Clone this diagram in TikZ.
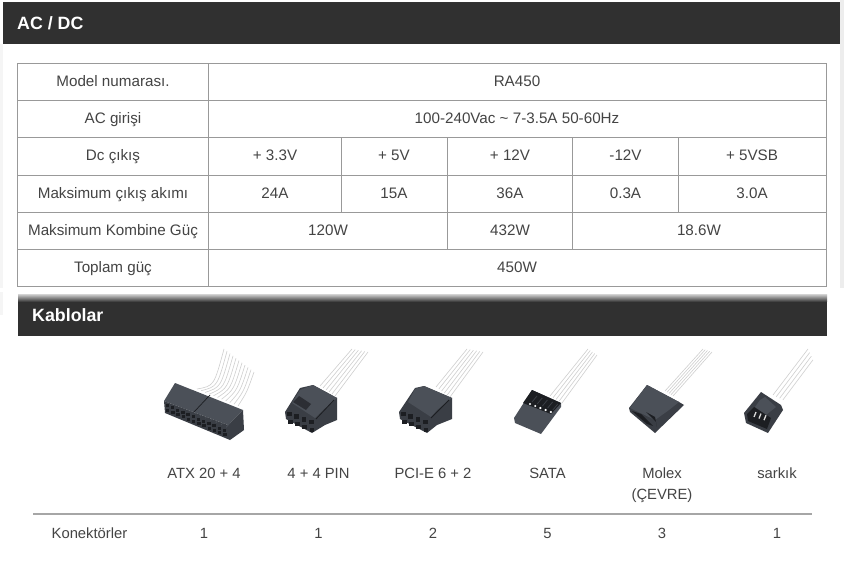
\documentclass[tikz,border=0pt]{standalone}
\usepackage{fontspec}
\usepackage{xcolor}
\setmainfont{Liberation Sans}
\usetikzlibrary{calc}
\definecolor{barcol}{HTML}{303030}
\definecolor{txtcol}{HTML}{444444}
\definecolor{gridcol}{HTML}{999999}
\definecolor{bodycol}{HTML}{3A3E45}
\definecolor{topcol}{HTML}{4B5058}
\definecolor{holecol}{HTML}{1C1E22}
\definecolor{wirecol}{HTML}{CFCFCF}

\begin{document}
\begin{tikzpicture}[x=1pt,y=-1pt,
    gridline/.style={draw=gridcol,line width=1pt},
    cell/.style={text=txtcol,font=\fontsize{15.2}{17}\selectfont,inner sep=0pt,anchor=base},
    small/.style={text=txtcol,font=\fontsize{14.8}{17}\selectfont,inner sep=0pt,anchor=base},
    bartitle/.style={text=white,font=\bfseries\fontsize{17.8}{20}\selectfont,inner sep=0pt,anchor=west},
    wire/.style={draw=wirecol,line width=0.6pt},
    body/.style={fill=bodycol,draw=none},
    upper/.style={fill=topcol,draw=none},
    hole/.style={fill=holecol,draw=none}]
        \useasboundingbox (0,0) rectangle (844,564);
        \fill[white] (0,0) rectangle (844,564);

        % page edges
        \fill[black!7] (840,0) rectangle (844,288);
        \fill[black!4] (0,44) rectangle (3,288);
        \fill[black!4] (0,292) rectangle (3,315);

        % title bars
        \fill[barcol] (3,2) rectangle (840,44);
        \draw[black!80,line width=1pt] (3,2.5)--(840,2.5);
        \node[bartitle] (acdc) at (17,23) {AC / DC};
        \fill[barcol] (18,302) rectangle (827,336);
        \shade[top color=black!25,bottom color=barcol] (18,295) rectangle (827,302);
        \node[bartitle] (kablolar) at (32,315) {Kablolar};

        % table
        \draw[gridline] (17.5,64) rectangle (826,287);
        \foreach \y in {101,138,175.5,212.5,249.5}
            \draw[gridline] (17.5,\y)--(826,\y);
        \draw[gridline] (208.5,64)--(208.5,287);
        \draw[gridline] (341.5,138)--(341.5,212.5);
        \draw[gridline] (447,138)--(447,249.5);
        \draw[gridline] (572.5,138)--(572.5,249.5);
        \draw[gridline] (678.5,138)--(678.5,212.5);

        \node[cell] (model) at (113,87) {Model numarası.};
        \node[cell] (acin) at (113,124) {AC girişi};
        \node[cell] (dcout) at (113,161) {Dc çıkış};
        \node[cell] (maxout) at (113,198.5) {Maksimum çıkış akımı};
        \node[cell] (maxcomb) at (113,236) {Maksimum Kombine Güç};
        \node[cell] (total) at (113,273) {Toplam güç};
        \node[cell] (ra) at (517,87) {RA450};
        \node[cell] (acval) at (517,124) {100-240Vac \textasciitilde{} 7-3.5A 50-60Hz};
        \node[cell] (vthree) at (275,161) {+ 3.3V};
        \node[cell] (vfive) at (394,161) {+ 5V};
        \node[cell] (vtwelve) at (510,161) {+ 12V};
        \node[cell] (vneg) at (625.5,161) {-12V};
        \node[cell] (vsb) at (752,161) {+ 5VSB};
        \node[cell] (athree) at (275,198.5) {24A};
        \node[cell] (afive) at (394,198.5) {15A};
        \node[cell] (atwelve) at (510,198.5) {36A};
        \node[cell] (aneg) at (625.5,198.5) {0.3A};
        \node[cell] (asb) at (752,198.5) {3.0A};
        \node[cell] (wone) at (328,236) {120W};
        \node[cell] (wtwo) at (510,236) {432W};
        \node[cell] (wthree) at (699,236) {18.6W};
        \node[cell] (wall) at (517,273) {450W};

        % ATX wires
        \foreach \t in {0,0.1,...,1.01}
            \draw[wire] ($(197,389)!\t!(238,406)$)
                .. controls ($(214,386)!\t!(247,392)$) .. ($(224,349)!\t!(254,372)$);
        % ATX plug
        \fill[upper] (164,401)--(175,383)--(243,410)--(228,425)--cycle;
        \fill[body] (164,401)--(228,425)--(243,410)--(244,430)--(230,440)--(165,413)--cycle;
        \draw[holecol,line width=0.7pt] (194,412)--(210,395);
        \foreach \i in {0,...,11} {
            \fill[hole] ({165.5+5.2*\i},{404+2.25*\i}) rectangle +(3.4,3);
            \fill[hole] ({166+5.2*\i},{408.5+2.25*\i}) rectangle +(3.4,3);
            \draw[topcol,line width=0.8pt] ({169+5.2*\i},{402.5+2.25*\i})--({173+5.2*\i},{398+2.25*\i});
        }

        % 4+4 wires
        \foreach \t in {0,0.2,...,1.01}
            \draw[wire] ($(320,386)!\t!(335,396)$)--($(352,349)!\t!(368,352)$);
        % 4+4 plug
        \fill[body] (285,412)--(300,388)--(313,385)--(337,398)--(337,420)--(325,425)--(312,433)--(286,419)--cycle;
        \fill[upper] (292,403)--(300,390)--(313,385)--(337,398)--(323,410)--(315,418)--cycle;
        \fill[bodycol!75!black] (293,402)--(299,396)--(311,404)--(306,410)--cycle;
        \draw[holecol,line width=0.8pt] (316,419)--(334,400);
        \foreach \i in {0,1,2,3} {
            \fill[hole] ({287+7.4*\i},{411.5+2.7*\i}) rectangle +(4.5,4.8);
            \fill[hole] ({288+7.2*\i},{419.5+2.8*\i}) rectangle +(4.5,4);
        }

        % PCI-E wires
        \foreach \t in {0,0.2,...,1.01}
            \draw[wire] ($(436,387)!\t!(450,397)$)--($(467,349)!\t!(483,352)$);
        % PCI-E plug
        \fill[body] (399,412)--(415,388)--(424,386)--(452,398)--(452,419)--(437,425)--(427,433)--(400,419)--cycle;
        \fill[upper] (408,402)--(415,389)--(424,386)--(452,398)--(437,410)--(431,417)--cycle;
        \draw[holecol,line width=0.8pt] (431,418)--(449,400);
        \foreach \i in {0,1,2,3} {
            \fill[hole] ({401+7.4*\i},{411.5+2.7*\i}) rectangle +(4.5,4.8);
            \fill[hole] ({402+7.2*\i},{419.5+2.8*\i}) rectangle +(4.5,4);
        }

        % SATA wires
        \foreach \t in {0,0.25,...,1.01}
            \draw[wire] ($(550,396)!\t!(562,403)$)--($(588,349)!\t!(597,355)$);
        % SATA plug
        \fill[upper] (514,418)--(532,390)--(561,403)--(561,407)--(541,434)--(515,423)--cycle;
        \fill[holecol] (532,390)--(561,403)--(551,414)--(523,403)--cycle;
        \foreach \i in {0,...,4} {
            \fill[white] ({530+5.2*\i},{404+2*\i}) circle (1.2);
            \draw[bodycol,line width=0.8pt] ({532+5.2*\i},{402+2*\i})--({537+5.2*\i},{396+2*\i});
        }

        % Molex wires
        \foreach \t in {0,0.25,...,1.01}
            \draw[wire] ($(665,391)!\t!(673,396)$)--($(703,349)!\t!(712,352)$);
        % Molex plug
        \fill[body] (629,408)--(647,385)--(679,402)--(684,405)--(655,433)--(630,412)--cycle;
        \fill[upper] (630,408)--(647,385)--(679,402)--(669,410)--(655,420)--cycle;
        \fill[holecol] (632,411)--(641,414)--(653,426)--(647,424)--cycle;
        \fill[holecol] (646,412)--(655,417)--(657,427)--(656,422)--cycle;

        % fan wires
        \foreach \t in {0,0.33,...,1.01}
            \draw[wire] ($(773,395)!\t!(783,400)$)--($(808,349)!\t!(813,360)$);
        % fan plug
        \fill[body] (744,413)--(761,392)--(781,405)--(783,410)--(768,433)--(746,423)--cycle;
        \fill[upper] (760,400)--(765,397)--(776,407)--(766,415)--(755,407)--cycle;
        \fill[hole] (747,414)--(754,407)--(771,418)--(767,429)--(748,421)--cycle;
        \foreach \i in {0,1,2} {
            \draw[white!85!black,line width=1.3pt] ({754+5*\i},{417+1.6*\i})--({756+5*\i},{412+1.6*\i});
        }

        % connector labels
        \node[small] (atx) at (204,478) {ATX 20 + 4};
        \node[small] (pin) at (318.5,478) {4 + 4 PIN};
        \node[small] (pcie) at (433,478) {PCI-E 6 + 2};
        \node[small] (sata) at (547.5,478) {SATA};
        \node[small] (molex) at (662,478) {Molex};
        \node[small] (cevre) at (662,499) {(ÇEVRE)};
        \node[small] (sarkik) at (777,478) {sarkık};

        \draw[draw=black!35,line width=2.5pt] (33,514)--(812,514);

        \node[small] (konek) at (89.5,538) {Konektörler};
        \node[small] (natx) at (204,538) {1};
        \node[small] (npin) at (318.5,538) {1};
        \node[small] (npcie) at (433,538) {2};
        \node[small] (nsata) at (547.5,538) {5};
        \node[small] (nmolex) at (662,538) {3};
        \node[small] (nsarkik) at (777,538) {1};
    \end{tikzpicture}
\end{document}
